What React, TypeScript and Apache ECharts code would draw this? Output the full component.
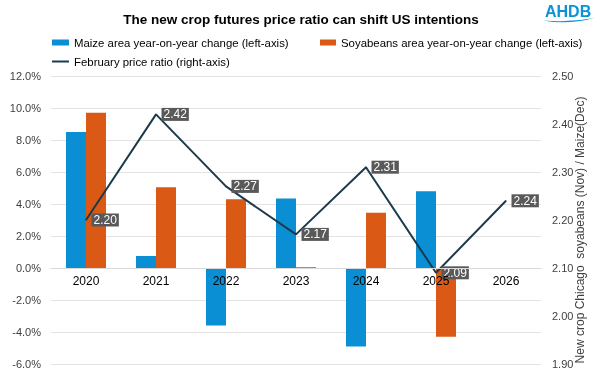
import React, { useEffect, useRef } from "react";
import * as echarts from "echarts";

const years = ["2020", "2021", "2022", "2023", "2024", "2025", "2026"];
const maizeChange = [8.5, 0.75, -3.6, 4.35, -4.9, 4.8, null];
const soyChange = [9.7, 5.05, 4.3, 0.05, 3.45, -4.3, null];
const priceRatio = [2.2, 2.42, 2.27, 2.17, 2.31, 2.09, 2.24];

const FONT = "'Liberation Sans', Arial, sans-serif";

echarts.graphic.registerShape(
  "ahdbWave",
  echarts.graphic.extendPath("M0,3 Q24,9 50,0 Q26,6 0,3 Z", {})
);

export default function App() {
  const ref = useRef<HTMLDivElement>(null);
  useEffect(() => {
    if (!ref.current) return;
    const chart = echarts.init(ref.current, null, { renderer: "svg" });
    const legendText = { fontSize: 11.4, color: "#000", fontFamily: FONT };
    chart.setOption({
      animation: false,
      textStyle: { fontFamily: FONT },
      title: {
        text: "The new crop futures price ratio can shift US intentions",
        left: "center",
        top: 12,
        padding: 0,
        textStyle: { fontSize: 13.5, fontWeight: "bold", color: "#000", fontFamily: FONT },
      },
      graphic: [
        {
          type: "text",
          left: 545,
          top: 3,
          style: { text: "AHDB", fontSize: 16, fontWeight: "bold", fill: "#0a93d6", fontFamily: FONT },
        },
        {
          type: "ahdbWave",
          x: 543,
          y: 18,
          scaleX: 1.02,
          scaleY: 0.8,
          style: { fill: "#0a93d6" },
        },
      ],
      legend: [
        {
          left: 52,
          top: 37,
          padding: 0,
          itemWidth: 17,
          itemHeight: 6,
          data: [{ name: "Maize area year-on-year change (left-axis)", icon: "rect" }],
          textStyle: legendText,
        },
        {
          left: 320,
          top: 37,
          padding: 0,
          itemWidth: 16,
          itemHeight: 6,
          data: [{ name: "Soyabeans area year-on-year change (left-axis)", icon: "rect" }],
          textStyle: legendText,
        },
        {
          left: 52,
          top: 56,
          padding: 0,
          itemWidth: 17,
          itemHeight: 2,
          data: [{ name: "February price ratio (right-axis)", icon: "rect" }],
          textStyle: legendText,
        },
      ],
      grid: { left: 51, right: 61, top: 76, bottom: 14, containLabel: false },
      xAxis: {
        type: "category",
        data: years,
        z: 10,
        position: "bottom",
        offset: -96,
        axisLine: { show: true, onZero: false, lineStyle: { color: "#d9d9d9", width: 1 } },
        axisTick: { show: false },
        axisLabel: { color: "#000", fontSize: 12, margin: 7, fontFamily: FONT },
      },
      yAxis: [
        {
          type: "value",
          min: -6,
          max: 12,
          interval: 2,
          axisLine: { show: false },
          axisTick: { show: false },
          splitLine: { lineStyle: { color: "#e3e3e3", width: 1 } },
          axisLabel: {
            color: "#404040",
            fontSize: 11,
            margin: 10,
            fontFamily: FONT,
            formatter: (v: number) => v.toFixed(1) + "%",
          },
        },
        {
          type: "value",
          min: 1.9,
          max: 2.5,
          interval: 0.1,
          position: "right",
          axisLine: { show: false },
          axisTick: { show: false },
          splitLine: { show: false },
          axisLabel: {
            color: "#404040",
            fontSize: 11,
            margin: 11,
            fontFamily: FONT,
            formatter: (v: number) => v.toFixed(2),
          },
          name: "New crop Chicago  soyabeans (Nov) / Maize(Dec)",
          nameLocation: "middle",
          nameRotate: 90,
          nameGap: 33,
          nameMoveOverlap: false,
          nameTextStyle: { fontSize: 12, color: "#404040", fontFamily: FONT, padding: [0, 20, 0, 0] },
        },
      ],
      series: [
        {
          name: "Maize area year-on-year change (left-axis)",
          type: "bar",
          data: maizeChange,
          barWidth: 20,
          barGap: "0%",
          itemStyle: { color: "#0a8fd4" },
          yAxisIndex: 0,
        },
        {
          name: "Soyabeans area year-on-year change (left-axis)",
          type: "bar",
          data: soyChange,
          barWidth: 20,
          barGap: "0%",
          itemStyle: { color: "#da5915" },
          yAxisIndex: 0,
        },
        {
          name: "February price ratio (right-axis)",
          type: "line",
          yAxisIndex: 1,
          data: priceRatio,
          symbol: "circle",
          symbolSize: 1,
          z: 5,
          lineStyle: { color: "#1b3a4b", width: 2 },
          itemStyle: { color: "#1b3a4b" },
          label: {
            show: true,
            position: "right",
            distance: 5,
            backgroundColor: "#595959",
            color: "#fff",
            fontSize: 12,
            fontFamily: FONT,
            padding: [1, 2, 0, 2],
            formatter: (p: any) => Number(p.value).toFixed(2),
          },
        },
      ],
    });
    return () => chart.dispose();
  }, []);
  return <div ref={ref} style={{ width: 602, height: 378, position: "fixed", left: 0, top: 0 }} />;
}
